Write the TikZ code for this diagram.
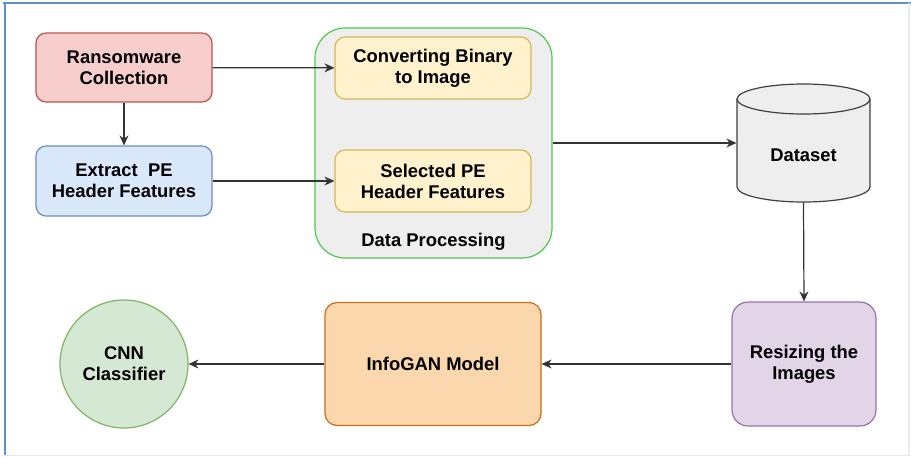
\documentclass[tikz,border=0pt]{standalone}
\usepackage{fontspec}
\setmainfont{Liberation Sans}
\usetikzlibrary{arrows.meta}

\definecolor{redfill}{RGB}{248,206,204}
\definecolor{reddraw}{RGB}{184,84,80}
\definecolor{bluefill}{RGB}{218,232,252}
\definecolor{bluedraw}{RGB}{108,142,191}
\definecolor{yelfill}{RGB}{255,242,204}
\definecolor{yeldraw}{RGB}{214,182,86}
\definecolor{greyfill}{RGB}{238,238,238}
\definecolor{greendraw}{RGB}{77,200,77}
\definecolor{purpfill}{RGB}{225,213,231}
\definecolor{purpdraw}{RGB}{150,115,166}
\definecolor{orgfill}{RGB}{250,215,172}
\definecolor{orgdraw}{RGB}{200,110,20}
\definecolor{grnfill}{RGB}{213,232,212}
\definecolor{grndraw}{RGB}{130,179,102}
\definecolor{framecol}{RGB}{95,145,210}

\tikzset{every picture/.style={line width=0.6pt}}
\tikzset{
  box/.style={rectangle, rounded corners=5pt, align=center, inner sep=2pt,
    font=\fontsize{9.2}{10.5}\selectfont\bfseries},
  flow/.style={-{Stealth[length=5pt,width=4.5pt]}, draw=black!80, line width=0.6pt}
}

\begin{document}
\begin{tikzpicture}[x=0.5pt,y=0.5pt,yscale=-1,xscale=1]
\useasboundingbox (0,0) rectangle (911,457);

%Frame
\draw [color=framecol] (3,3) -- (911,3) ;
\draw [color=framecol] (5,3) -- (5,455) ;
\draw [color=framecol!20] (5,455.5) -- (911,455.5) ;
\draw [color=black!8] (909,3) -- (909,455) ;

%Container
\node [box, draw=greendraw, fill=greyfill, rounded corners=15pt, minimum width=118.5pt, minimum height=115pt] (dp) at (433.5,143) {};
\node [box] (dplabel) at (433.5,242) {Data Processing};

%Boxes
\node [box, draw=reddraw, fill=redfill, minimum width=88pt, minimum height=34.5pt] (rc) at (124,67.5) {Ransomware\\Collection};
\node [box, draw=bluedraw, fill=bluefill, minimum width=88pt, minimum height=35pt] (pe) at (124,181) {Extract\ \ PE\\Header Features};
\node [box, draw=yeldraw, fill=yelfill, minimum width=98pt, minimum height=31pt] (cb) at (433,68) {Converting Binary\\to Image};
\node [box, draw=yeldraw, fill=yelfill, minimum width=98pt, minimum height=31pt] (sp) at (433,181) {Selected PE\\Header Features};

%Dataset (cylinder drawn round the node)
\node [box, minimum width=66.5pt, minimum height=59pt] (db) at (803.5,143) {};
\draw [draw=black!75, fill=greyfill] (737,99) -- (737,187) arc[start angle=180, end angle=0, x radius=33.25pt, y radius=7.5pt] -- (870,99) arc[start angle=0, end angle=-180, x radius=33.25pt, y radius=7.5pt] -- cycle ;
\draw [draw=black!75] (737,99) arc[start angle=180, end angle=0, x radius=33.25pt, y radius=7.5pt] ;
\node [box] (dblabel) at (803.5,155) {Dataset};

%Bottom row
\node [box, draw=purpdraw, fill=purpfill, rounded corners=8pt, minimum width=72pt, minimum height=62pt] (rs) at (804,364) {Resizing the\\Images};
\node [box, draw=orgdraw, fill=orgfill, rounded corners=6pt, minimum width=108pt, minimum height=61.5pt] (ig) at (433,364) {InfoGAN Model};
\node [box, circle, draw=grndraw, fill=grnfill, minimum size=64pt] (cnn) at (124,364) {CNN\\Classifier};

%Connectors
\draw [flow] (rc) -- (cb) ;
\draw [flow] (pe) -- (sp) ;
\draw [flow] (rc) -- (pe) ;
\draw [flow] (dp.east) -- (db.west |- dp.east) ;
\draw [flow] (db.south) -- (rs.north) ;
\draw [flow] (rs) -- (ig) ;
\draw [flow] (ig) -- (cnn) ;

\end{tikzpicture}
\end{document}
